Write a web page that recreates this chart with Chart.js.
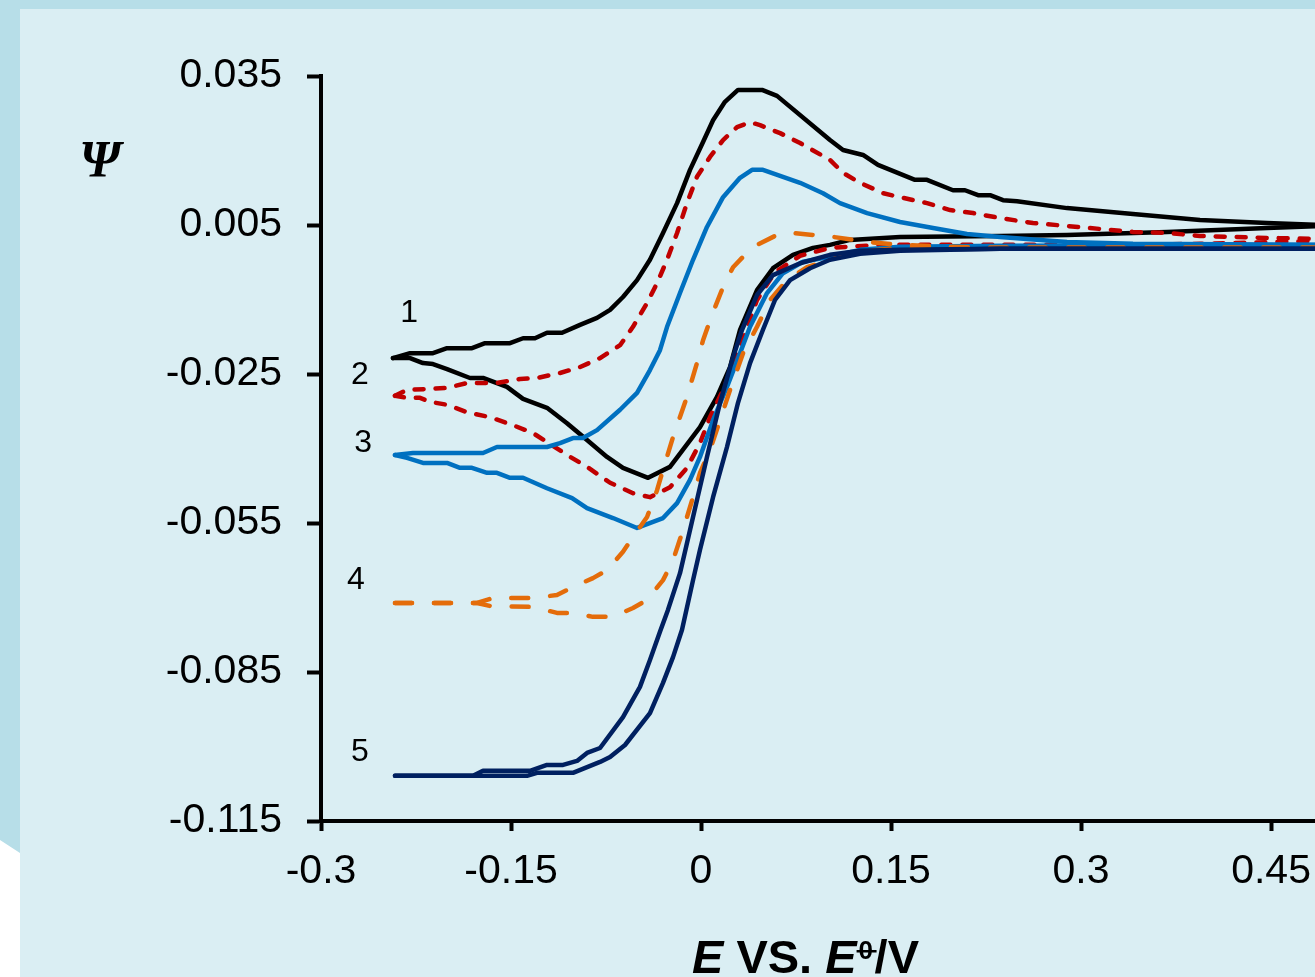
<!DOCTYPE html>
<html><head><meta charset="utf-8">
<script src="https://cdn.jsdelivr.net/npm/chart.js@4.4.1/dist/chart.umd.min.js"></script>
<style>
html,body{margin:0;padding:0;width:1315px;height:977px;overflow:hidden;background:#fff;}
#outer{position:absolute;left:0;top:0;width:1315px;height:977px;background:#B7DEE8;clip-path:polygon(0 0,1315px 0,1315px 977px,20px 977px,20px 853px,0 840px);}
#inner{position:absolute;left:20px;top:9px;width:1295px;height:968px;background:#DAEEF3;}
canvas{position:absolute;left:0;top:0;}
</style></head><body>
<div id="outer"></div><div id="inner"></div>
<canvas id="c" width="1315" height="977"></canvas>
<script>
// ---- tick labels ----
const xTickValues = [-0.3, -0.15, 0, 0.15, 0.3, 0.45];
const xTickLabels = ['-0.3', '-0.15', '0', '0.15', '0.3', '0.45'];
const yTickValues = [0.035, 0.005, -0.025, -0.055, -0.085, -0.115];
const yTickLabels = ['0.035', '0.005', '-0.025', '-0.055', '-0.085', '-0.115'];

// ---- curve labels ----
const curveNames = ['1', '2', '3', '4', '5'];
const labelE   = [-0.2305, -0.2692, -0.2668, -0.2724, -0.2692];
const labelPsi = [-0.0127, -0.0252, -0.0389, -0.0665, -0.1011];

// ---- series values [E, Psi] ----
const c1Upper = [[-0.2432,-0.0218],[-0.2297,-0.0208],[-0.2116,-0.0208],[-0.2005,-0.0198],[-0.1808,-0.0198],[-0.1705,-0.0188],[-0.1508,-0.0188],[-0.1405,-0.0178],[-0.1311,-0.0178],[-0.1216,-0.0167],[-0.1097,-0.0167],[-0.0955,-0.0151],[-0.0821,-0.0137],[-0.0718,-0.0121],[-0.0616,-0.0095],[-0.0505,-0.0061],[-0.0403,-0.0020],[-0.0300,0.0034],[-0.0189,0.0094],[-0.0087,0.0161],[0.0016,0.0217],[0.0095,0.0261],[0.0189,0.0298],[0.0292,0.0322],[0.0482,0.0322],[0.0600,0.0310],[0.1018,0.0221],[0.1121,0.0201],[0.1279,0.0191],[0.1397,0.0171],[0.1689,0.0141],[0.1784,0.0141],[0.1989,0.0120],[0.2084,0.0120],[0.2187,0.0110],[0.2282,0.0110],[0.2384,0.0100],[0.2495,0.0098],[0.2889,0.0084],[0.3410,0.0072],[0.3939,0.0060],[0.4468,0.0054],[0.4900,0.0050]];
const c1Lower = [[-0.2432,-0.0218],[-0.2297,-0.0218],[-0.2195,-0.0228],[-0.2116,-0.0230],[-0.2005,-0.0240],[-0.1824,-0.0258],[-0.1721,-0.0258],[-0.1532,-0.0276],[-0.1405,-0.0300],[-0.1216,-0.0318],[-0.1058,-0.0349],[-0.0900,-0.0383],[-0.0742,-0.0417],[-0.0616,-0.0439],[-0.0418,-0.0459],[-0.0245,-0.0437],[-0.0008,-0.0357],[0.0126,-0.0296],[0.0229,-0.0236],[0.0308,-0.0161],[0.0442,-0.0081],[0.0568,-0.0037],[0.0726,-0.0010],[0.0884,0.0004],[0.1018,0.0010],[0.1176,0.0020],[0.1571,0.0026],[0.2360,0.0028],[0.2889,0.0030],[0.3679,0.0036],[0.4468,0.0044],[0.4900,0.0048]];

const c2Upper = [[-0.2416,-0.0294],[-0.2321,-0.0282],[-0.2139,-0.0280],[-0.2005,-0.0278],[-0.1847,-0.0268],[-0.1610,-0.0268],[-0.1429,-0.0260],[-0.1295,-0.0258],[-0.1113,-0.0248],[-0.0955,-0.0236],[-0.0797,-0.0218],[-0.0639,-0.0192],[-0.0537,-0.0155],[-0.0426,-0.0107],[-0.0347,-0.0067],[-0.0268,-0.0020],[-0.0189,0.0034],[-0.0111,0.0094],[-0.0032,0.0147],[0.0071,0.0187],[0.0174,0.0221],[0.0284,0.0247],[0.0387,0.0257],[0.0466,0.0251],[0.0624,0.0235],[0.0782,0.0215],[0.1018,0.0181],[0.1121,0.0155],[0.1255,0.0135],[0.1437,0.0114],[0.1571,0.0106],[0.1784,0.0094],[0.1966,0.0080],[0.2147,0.0074],[0.2360,0.0064],[0.2621,0.0054],[0.2889,0.0048],[0.3150,0.0042],[0.3410,0.0036],[0.3679,0.0034],[0.3939,0.0028],[0.4200,0.0026],[0.4468,0.0024],[0.4900,0.0022]];
const c2Lower = [[-0.2416,-0.0294],[-0.2321,-0.0298],[-0.2218,-0.0298],[-0.2139,-0.0306],[-0.2005,-0.0312],[-0.1847,-0.0327],[-0.1666,-0.0337],[-0.1484,-0.0353],[-0.1326,-0.0369],[-0.1216,-0.0387],[-0.1058,-0.0413],[-0.0900,-0.0437],[-0.0718,-0.0469],[-0.0537,-0.0490],[-0.0403,-0.0498],[-0.0245,-0.0478],[-0.0111,-0.0439],[-0.0008,-0.0389],[0.0071,-0.0337],[0.0174,-0.0282],[0.0308,-0.0196],[0.0442,-0.0101],[0.0584,-0.0045],[0.0782,-0.0012],[0.1018,0.0004],[0.1413,0.0010],[0.2360,0.0010],[0.3150,0.0010],[0.3939,0.0012],[0.4900,0.0018]];

const c3Upper = [[-0.2416,-0.0413],[-0.2274,-0.0409],[-0.1721,-0.0409],[-0.1611,-0.0397],[-0.1216,-0.0397],[-0.1113,-0.0389],[-0.1011,-0.0379],[-0.0932,-0.0379],[-0.0821,-0.0363],[-0.0639,-0.0322],[-0.0505,-0.0288],[-0.0403,-0.0242],[-0.0324,-0.0202],[-0.0268,-0.0155],[-0.0166,-0.0087],[-0.0063,-0.0020],[0.0047,0.0046],[0.0174,0.0106],[0.0308,0.0145],[0.0403,0.0161],[0.0489,0.0161],[0.0782,0.0135],[0.0963,0.0114],[0.1097,0.0094],[0.1311,0.0074],[0.1571,0.0056],[0.1832,0.0044],[0.2100,0.0032],[0.2360,0.0026],[0.2889,0.0016],[0.3410,0.0012],[0.4900,0.0010]];
const c3Lower = [[-0.2416,-0.0413],[-0.2321,-0.0419],[-0.2195,-0.0429],[-0.2005,-0.0429],[-0.1903,-0.0439],[-0.1808,-0.0439],[-0.1689,-0.0449],[-0.1611,-0.0449],[-0.1508,-0.0459],[-0.1405,-0.0459],[-0.1216,-0.0480],[-0.1018,-0.0500],[-0.0900,-0.0520],[-0.0695,-0.0540],[-0.0505,-0.0560],[-0.0300,-0.0540],[-0.0189,-0.0510],[-0.0087,-0.0463],[-0.0008,-0.0417],[0.0095,-0.0343],[0.0205,-0.0276],[0.0308,-0.0208],[0.0387,-0.0155],[0.0521,-0.0087],[0.0647,-0.0047],[0.0805,-0.0024],[0.1018,-0.0014],[0.1255,0.0000],[0.1571,0.0006],[0.2360,0.0008],[0.4900,0.0010]];

const c4Upper = [[-0.2416,-0.0711],[-0.1768,-0.0711],[-0.1642,-0.0701],[-0.1326,-0.0701],[-0.1137,-0.0695],[-0.1011,-0.0679],[-0.0853,-0.0661],[-0.0742,-0.0645],[-0.0616,-0.0608],[-0.0537,-0.0578],[-0.0426,-0.0538],[-0.0347,-0.0484],[-0.0300,-0.0443],[-0.0221,-0.0377],[-0.0111,-0.0296],[-0.0032,-0.0228],[0.0016,-0.0182],[0.0087,-0.0131],[0.0174,-0.0075],[0.0253,-0.0035],[0.0332,-0.0014],[0.0442,0.0010],[0.0600,0.0030],[0.0726,0.0034],[0.0884,0.0030],[0.1042,0.0026],[0.1311,0.0016],[0.1571,0.0010],[0.1966,0.0006],[0.2360,0.0004],[0.4900,0.0004]];
const c4Lower = [[-0.2416,-0.0711],[-0.1768,-0.0711],[-0.1666,-0.0717],[-0.1326,-0.0719],[-0.1137,-0.0731],[-0.1011,-0.0731],[-0.0853,-0.0739],[-0.0695,-0.0739],[-0.0537,-0.0721],[-0.0426,-0.0705],[-0.0300,-0.0665],[-0.0221,-0.0625],[-0.0142,-0.0564],[-0.0063,-0.0498],[-0.0008,-0.0449],[0.0071,-0.0403],[0.0150,-0.0343],[0.0229,-0.0282],[0.0332,-0.0208],[0.0442,-0.0155],[0.0545,-0.0101],[0.0679,-0.0061],[0.0837,-0.0035],[0.1018,-0.0020],[0.1176,-0.0006],[0.1571,0.0004],[0.4900,0.0004]];

const c5Upper = [[-0.2416,-0.1059],[-0.1800,-0.1059],[-0.1721,-0.1049],[-0.1350,-0.1049],[-0.1216,-0.1037],[-0.1089,-0.1037],[-0.0979,-0.1029],[-0.0900,-0.1013],[-0.0797,-0.1003],[-0.0616,-0.0941],[-0.0482,-0.0880],[-0.0403,-0.0826],[-0.0324,-0.0769],[-0.0261,-0.0725],[-0.0166,-0.0651],[-0.0063,-0.0538],[0.0047,-0.0417],[0.0150,-0.0308],[0.0253,-0.0216],[0.0324,-0.0161],[0.0442,-0.0091],[0.0568,-0.0051],[0.0782,-0.0027],[0.1018,-0.0010],[0.1255,-0.0002],[0.1571,0.0000],[0.2360,0.0002],[0.4900,0.0002]];
const c5Lower = [[-0.2416,-0.1059],[-0.1374,-0.1059],[-0.1295,-0.1053],[-0.1011,-0.1053],[-0.0797,-0.1031],[-0.0718,-0.1021],[-0.0600,-0.0997],[-0.0403,-0.0933],[-0.0300,-0.0872],[-0.0221,-0.0820],[-0.0150,-0.0765],[-0.0063,-0.0665],[-0.0008,-0.0604],[0.0095,-0.0498],[0.0205,-0.0397],[0.0292,-0.0308],[0.0387,-0.0228],[0.0489,-0.0161],[0.0584,-0.0101],[0.0703,-0.0061],[0.0861,-0.0037],[0.1018,-0.0020],[0.1255,-0.0008],[0.1571,-0.0002],[0.2360,0.0002],[0.4900,0.0002]];

// ---- build datasets ----
const series = [
  {name:'1', branches:[c1Upper, c1Lower], color:'#000000', dash:[],      order:4},
  {name:'2', branches:[c2Upper, c2Lower], color:'#C00000', dash:[9,12],  order:3},
  {name:'3', branches:[c3Upper, c3Lower], color:'#0070C0', dash:[],      order:2},
  {name:'4', branches:[c4Upper, c4Lower], color:'#E46C0A', dash:[17,22], order:1},
  {name:'5', branches:[c5Upper, c5Lower], color:'#002060', dash:[],      order:0}
];
const datasets = [];
series.forEach(s => s.branches.forEach((b, bi) => datasets.push({
  label: s.name + (bi === 0 ? 'a' : 'b'),
  data: b.map(p => ({x: p[0], y: p[1]})),
  showLine: true, pointRadius: 0, pointHoverRadius: 0,
  borderColor: s.color, backgroundColor: s.color,
  borderWidth: 4.5, borderDash: s.dash, borderCapStyle: 'round', borderJoinStyle: 'round',
  tension: 0, fill: false, order: s.order
})));

const SANS = '"Liberation Sans", Arial, sans-serif';

const annot = {
  id: 'annot',
  afterDraw(chart) {
    const {ctx, chartArea} = chart;
    const xs = chart.scales.x, ys = chart.scales.y;
    ctx.save();
    ctx.fillStyle = '#000';
    // curve labels
    ctx.font = '32px ' + SANS;
    ctx.textAlign = 'center';
    ctx.textBaseline = 'middle';
    curveNames.forEach((n, i) => ctx.fillText(n, xs.getPixelForValue(labelE[i]), ys.getPixelForValue(labelPsi[i])));
    // y title
    ctx.font = 'bold italic 52px "Liberation Serif", "DejaVu Serif", serif';
    ctx.fillText('Ψ', chartArea.left - 221, chartArea.top + 88);
    // x title
    ctx.textAlign = 'left';
    ctx.textBaseline = 'alphabetic';
    const fBI = 'bold italic 47px ' + SANS, fB = 'bold 47px ' + SANS;
    let tx = chartArea.left + 371;
    const ty = chartArea.bottom + 152;
    ctx.font = fBI; ctx.fillText('E', tx, ty); tx += ctx.measureText('E').width;
    ctx.font = fB; ctx.fillText(' VS. ', tx, ty); tx += ctx.measureText(' VS. ').width;
    ctx.font = fBI; ctx.fillText('E', tx, ty); tx += ctx.measureText('E').width;
    ctx.font = 'bold 26px ' + SANS; ctx.fillText('0', tx + 2, ty - 14);
    ctx.fillRect(tx, ty - 23, 20, 2.5);
    tx += 18;
    ctx.font = fB; ctx.fillText('/V', tx, ty);
    ctx.restore();
  }
};

new Chart(document.getElementById('c'), {
  type: 'scatter',
  data: {datasets},
  options: {
    responsive: false, animation: false, devicePixelRatio: 1,
    layout: {padding: {top: 76, left: 0, right: 0, bottom: 0}},
    plugins: {legend: {display: false}, tooltip: {enabled: false}},
    scales: {
      x: {
        type: 'linear', min: -0.3, max: 0.4847,
        afterBuildTicks(s) { s.ticks = xTickValues.map(v => ({value: v})); },
        afterFit(s) { s.height = 156; s.paddingLeft = 0; s.paddingRight = 0; },
        ticks: {callback: (v, i) => xTickLabels[i], font: {family: SANS, size: 41}, color: '#000', padding: 16, maxRotation: 0, autoSkip: false},
        grid: {display: true, drawOnChartArea: false, drawTicks: true, tickLength: 10, tickWidth: 4, tickColor: '#000'},
        border: {display: true, color: '#000', width: 4}
      },
      y: {
        type: 'linear', min: -0.115, max: 0.035,
        afterBuildTicks(s) { s.ticks = yTickValues.map(v => ({value: v})); },
        afterFit(s) { s.width = 321; s.paddingTop = 0; s.paddingBottom = 0; },
        ticks: {callback: (v, i) => yTickLabels[i], font: {family: SANS, size: 41}, color: '#000', padding: 25, autoSkip: false},
        grid: {display: true, drawOnChartArea: false, drawTicks: true, tickLength: 14, tickWidth: 4, tickColor: '#000'},
        border: {display: true, color: '#000', width: 4}
      }
    }
  },
  plugins: [annot]
});
</script>
</body></html>
